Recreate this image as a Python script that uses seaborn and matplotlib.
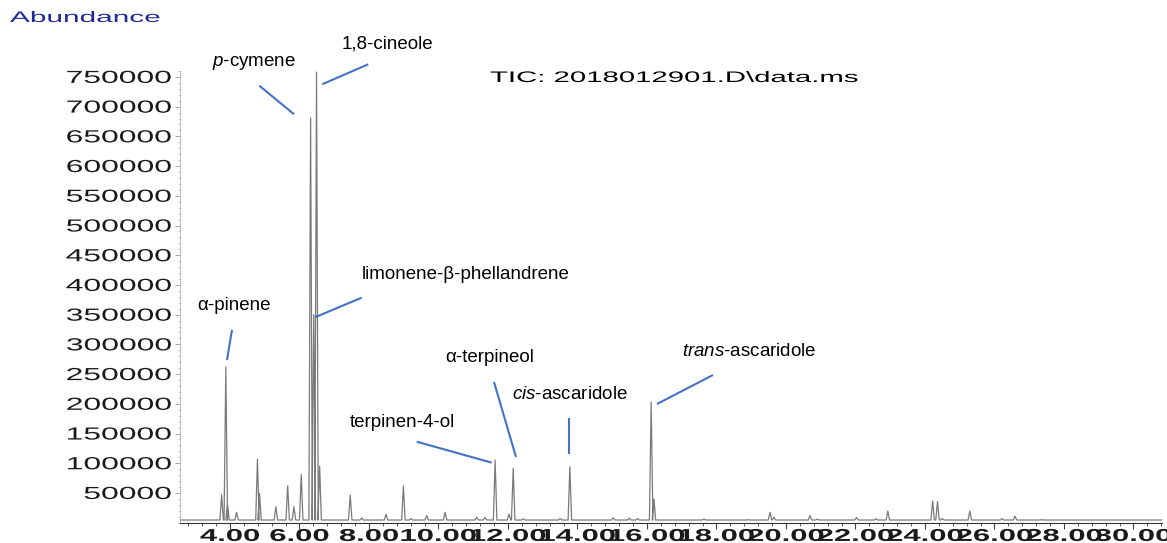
import matplotlib
matplotlib.use("Agg")
import matplotlib.pyplot as plt
import matplotlib.ticker as mticker
from matplotlib.patheffects import AbstractPathEffect
from matplotlib.transforms import Affine2D
import numpy as np
import pandas as pd
import seaborn as sns

# Peaks (retention time in min, abundance at apex)
peak_rt = [3.76, 3.88, 3.93, 4.19, 4.79, 4.85, 5.32, 5.66, 5.84, 6.05,
           6.32, 6.41, 6.49, 6.58, 7.46, 7.79, 8.49, 8.99, 9.21, 9.66,
           10.19, 11.10, 11.34, 11.63, 12.03, 12.15, 12.44, 13.50, 13.78,
           15.03, 15.49, 15.73, 16.12, 16.20, 17.64, 18.92, 19.54, 19.65,
           20.69, 20.90, 22.03, 22.59, 22.93, 24.22, 24.36, 24.50, 25.29,
           26.22, 26.59, 27.37]
peak_abund = [47000, 262000, 30000, 17500, 107000, 49000, 27000, 62000, 27000, 81000,
              681000, 350000, 758000, 95000, 46600, 8000, 14000, 62000, 7000, 12000,
              17500, 9000, 9000, 105500, 14600, 91500, 6500, 7000, 94000,
              8500, 7500, 7000, 203000, 40000, 6000, 5000, 17500, 9000,
              12000, 6000, 8500, 6500, 19700, 36500, 35300, 7000, 19700,
              7000, 11000, 5000]
baseline = 4500
rt_start, rt_end = 2.56, 30.82

# Peak annotations
ann_text = [r"$\mathit{p}$-cymene", "1,8-cineole", "α-pinene", "limonene-β-phellandrene",
            "α-terpineol", "terpinen-4-ol", r"$\mathit{cis}$-ascaridole",
            r"$\mathit{trans}$-ascaridole"]
ann_x = [3.48, 7.22, 3.05, 7.80, 10.19, 7.45, 12.12, 17.01]
ann_y = [773600, 805500, 364600, 416800, 277100, 169400, 214900, 287300]
line_x0 = [4.843, 7.980, 4.058, 7.790, 11.597, 9.373, 13.755, 17.899]
line_y0 = [735300, 771300, 324300, 378600, 236800, 136300, 176200, 248500]
line_x1 = [5.842, 6.656, 3.914, 6.446, 12.230, 11.531, 13.755, 16.288]
line_y1 = [687200, 737700, 273800, 345600, 110600, 101000, 115600, 199700]

y_ticks = list(range(50000, 750001, 50000))
x_ticks = [4, 6, 8, 10, 12, 14, 16, 18, 20, 22, 24, 26, 28, 30]


class Stretch(AbstractPathEffect):
    """Stretch text glyphs horizontally (ChemStation style wide fonts)."""
    def __init__(self, sx, anchor="center"):
        super().__init__()
        self.sx = sx
        self.anchor = anchor

    def draw_path(self, renderer, gc, tpath, affine, rgbFace=None):
        ext = tpath.get_extents()
        if self.anchor == "left":
            x0 = 0
        elif self.anchor == "right":
            x0 = ext.x1
        else:
            x0 = (ext.x0 + ext.x1) / 2
        tr = Affine2D().translate(-x0, 0).scale(self.sx, 1).translate(x0, 0) + affine
        renderer.draw_path(gc, tpath, tr, rgbFace)


sns.set_theme(style="white")
plt.rcParams["font.family"] = ["Liberation Sans", "DejaVu Sans"]
plt.rcParams["mathtext.fontset"] = "custom"
plt.rcParams["mathtext.rm"] = "Liberation Sans"
plt.rcParams["mathtext.it"] = "Liberation Sans:italic"

# build the trace: each peak drawn as foot-apex-foot
w = 0.05
t = [rt_start]
a = [baseline]
for rt, h in zip(peak_rt, peak_abund):
    t += [rt - w, rt, rt + w]
    a += [baseline, h, baseline]
t.append(rt_end)
a.append(baseline)
df = pd.DataFrame({"time": t, "abundance": a})

fig = plt.figure(figsize=(11.67, 5.43), dpi=100)
ax = fig.add_axes([0.1542, 0.0374, 0.8415, 0.8319])

sns.lineplot(data=df, x="time", y="abundance", sort=False, estimator=None,
             color="#7a7a7a", lw=0.9, ax=ax)

ax.set_xlim(rt_start, rt_end)
ax.set_ylim(0, 760000)
ax.set_xlabel("")
ax.set_ylabel("")

ax.set_xticks(x_ticks)
ax.xaxis.set_major_formatter(mticker.FormatStrFormatter("%.2f"))
ax.xaxis.set_minor_locator(mticker.MultipleLocator(0.4))
ax.set_yticks(y_ticks)
ax.yaxis.set_major_formatter(mticker.FuncFormatter(lambda v, p: f"{int(v)}"))
ax.yaxis.set_minor_locator(mticker.MultipleLocator(10000))

ax.tick_params(axis="x", which="major", direction="out", length=4.5, width=0.8,
               color="#444444", pad=0, labelsize=12.4)
ax.tick_params(axis="x", which="minor", direction="out", length=2.5, width=0.6,
               color="#444444")
ax.tick_params(axis="y", which="major", direction="out", length=3.5, width=0.6,
               color="#999999", pad=3, labelsize=12.6)
ax.tick_params(axis="y", which="minor", direction="out", length=1.5, width=0.5,
               color="#aaaaaa")
ax.tick_params(bottom=True, left=True, which="both")

for lbl in ax.get_xticklabels():
    lbl.set_fontweight("bold")
    lbl.set_color("#1a1a1a")
    lbl.set_path_effects([Stretch(1.8, "center")])
for lbl in ax.get_yticklabels():
    lbl.set_color("#1a1a1a")
    lbl.set_path_effects([Stretch(1.82, "right")])

sns.despine(ax=ax)
ax.spines["left"].set_color("#b0b0b0")
ax.spines["left"].set_linewidth(0.6)
ax.spines["bottom"].set_color("#333333")
ax.spines["bottom"].set_linewidth(0.8)

for txt, x, y in zip(ann_text, ann_x, ann_y):
    ax.text(x, y, txt, fontsize=13.5, ha="left", va="center", color="black",
            clip_on=False)
for x0, y0, x1, y1 in zip(line_x0, line_y0, line_x1, line_y1):
    ax.plot([x0, x1], [y0, y1], color="#4472c4", lw=1.5, clip_on=False,
            solid_capstyle="butt")

fig.text(490 / 1167, 1 - 78 / 543, r"TIC: 2018012901.D\data.ms", fontsize=11,
         ha="left", va="center", color="black",
         path_effects=[Stretch(1.92, "left")])
fig.text(10 / 1167, 1 - 18 / 543, "Abundance", fontsize=11, ha="left",
         va="center", color="#1e2896", path_effects=[Stretch(1.95, "left")])

fig.savefig("out.png", dpi=100)
